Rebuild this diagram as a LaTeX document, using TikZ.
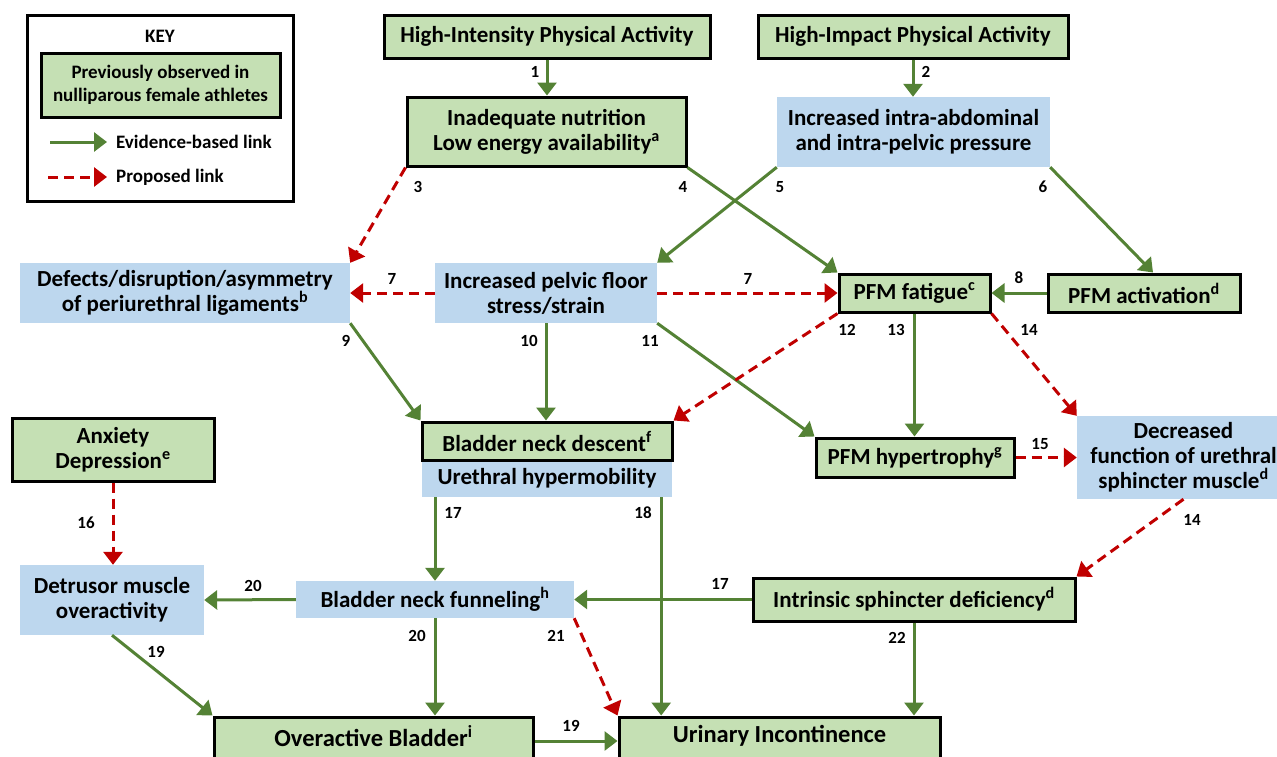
\documentclass[tikz,border=0pt]{standalone}
\usepackage{fontspec}
\setmainfont{Carlito}
\usetikzlibrary{arrows.meta}
\definecolor{gfill}{HTML}{C5E0B4}
\definecolor{bfill}{HTML}{BDD7EE}
\definecolor{garrow}{HTML}{548235}
\definecolor{rarrow}{HTML}{C00000}
\tikzset{
  boxtext/.style={align=center, inner sep=0pt, font=\bfseries\fontsize{23}{25}\selectfont},
  gbox/.style={boxtext, draw=black, line width=3pt, fill=gfill},
  bbox/.style={boxtext, fill=bfill},
  bigtext/.style={font=\bfseries\fontsize{24.5}{26}\selectfont},
  ga/.style={draw=garrow, line width=3pt, -{Triangle[length=13pt,width=19pt]}},
  ra/.style={draw=rarrow, line width=3pt, dash pattern=on 10pt off 6pt, -{Triangle[length=13pt,width=19pt]}},
  lab/.style={inner sep=0pt, font=\bfseries\fontsize{17}{17}\selectfont},
  keytext/.style={inner sep=0pt, font=\bfseries\fontsize{19}{23}\selectfont, align=center},
}
\begin{document}
\begin{tikzpicture}[x=1pt,y=-1pt]
\useasboundingbox (0,0) rectangle (1277,756);
% KEY
\node[draw=black, line width=3pt, fill=white, minimum width=266pt, minimum height=186pt, inner sep=0pt] (key) at (160,108) {};
\node[keytext] (keyt) at (160,36) {KEY};
\node[keytext, draw=black, line width=3pt, fill=gfill, minimum width=239pt, minimum height=64pt] (keyg) at (160.5,85) {Previously observed in\\nulliparous female athletes};
\coordinate (ka1) at (50,142); \coordinate (ka2) at (107,142);
\coordinate (kb1) at (48,177); \coordinate (kb2) at (107,177);
\draw[ga] (ka1) -- (ka2);
\draw[ra] (kb1) -- (kb2);
\node[keytext, anchor=west] (kta) at (116,142) {Evidence-based link};
\node[keytext, anchor=west] (ktb) at (116,177) {Proposed link};
% boxes
\node[gbox, minimum width=326pt, minimum height=43pt] (hi) at (547,36.5) {High-Intensity Physical Activity};
\node[gbox, minimum width=310pt, minimum height=43pt] (hp) at (913,36.5) {High-Impact Physical Activity};
\node[gbox, minimum width=279pt, minimum height=69pt] (nut) at (546.5,131.5) {Inadequate nutrition\\Low energy availability\textsuperscript{a}};
\node[bbox, minimum width=273pt, minimum height=70pt] (iap) at (913.5,132) {Increased intra-abdominal\\and intra-pelvic pressure};
\node[bbox, minimum width=330pt, minimum height=60pt] (def) at (185,293) {Defects/disruption/asymmetry\\of periurethral ligaments\textsuperscript{b}};
\node[bbox, minimum width=222pt, minimum height=60pt] (ips) at (546,293) {Increased pelvic floor\\stress/strain};
\node[gbox, minimum width=151pt, minimum height=38pt] (fat) at (914.5,293) {PFM fatigue\textsuperscript{c}};
\node[gbox, minimum width=192pt, minimum height=38pt] (act) at (1144,293) {PFM activation\textsuperscript{d}};
\node[bbox, minimum width=250pt, minimum height=37pt] (uh) at (547,478.5) {Urethral hypermobility};
\node[gbox, minimum width=250pt, minimum height=38pt] (bnd) at (547,441) {Bladder neck descent\textsuperscript{f}};
\node[gbox, minimum width=198pt, minimum height=39pt] (hyp) at (915,457.5) {PFM hypertrophy\textsuperscript{g}};
\node[bbox, minimum width=213pt, minimum height=83pt] (dfus) at (1183.5,457.5) {Decreased\\function of urethral\\sphincter muscle\textsuperscript{d}};
\node[gbox, minimum width=202pt, minimum height=63pt] (anx) at (113,449.5) {Anxiety\\Depression\textsuperscript{e}};
\node[bbox, minimum width=184pt, minimum height=70pt] (det) at (112,600) {Detrusor muscle\\overactivity};
\node[bbox, minimum width=278pt, minimum height=37pt] (bnf) at (435,599.5) {Bladder neck funneling\textsuperscript{h}};
\node[gbox, minimum width=322pt, minimum height=43pt] (isd) at (914,599.5) {Intrinsic sphincter deficiency\textsuperscript{d}};
\node[gbox, minimum width=319pt, minimum height=44pt] (ob) at (373.5,739) {};
\node[gbox, minimum width=321pt, minimum height=44pt] (ui) at (779.5,739) {};
\node[boxtext, bigtext] (obt) at (373.5,736) {Overactive Bladder\textsuperscript{i}};
\node[boxtext, bigtext] (uit) at (779.5,736) {Urinary Incontinence};
% connectors
\draw[ga] (hi.south) -- (hi.south |- nut.north);
\draw[ga] (hp.south) -- (hp.south |- iap.north);
\draw[ra] (nut.south west) -- (def.north east);
\draw[ga] (nut.south east) -- (fat.north west);
\draw[ga] (iap.south west) -- (ips.north east);
\draw[ga] (iap.south east) -- ([xshift=9pt]act.north);
\draw[ra] (ips.west) -- (def.east);
\draw[ra] (ips.east) -- (fat.west);
\draw[ga] (act.west) -- (fat.east);
\draw[ga] (def.south east) -- (bnd.north west);
\draw[ga] (ips.south) -- (ips.south |- bnd.north);
\draw[ga] (ips.south east) -- (hyp.north west);
\draw[ra] (fat.south west) -- (bnd.north east);
\draw[ga] (fat.south) -- (fat.south |- hyp.north);
\draw[ra] (fat.south east) -- (dfus.north west);
\draw[ra] (hyp.east) -- (hyp.east -| dfus.west);
\draw[ra] (dfus.south) -- (isd.north east);
\draw[ra] (anx.south) -- (anx.south |- det.north);
\draw[ga] (bnf.north |- uh.south) -- (bnf.north);
\draw[ga] (isd.west) -- (bnf.east);
\coordinate (c18) at ([xshift=-11pt]uh.south east);
\draw[ga] (c18) -- (c18 |- ui.north);
\draw[ga] (det.south) -- (ob.north west);
\draw[ga] ([yshift=-2pt]ob.east) -- ([yshift=-2pt]ob.east -| ui.west);
\draw[ga] (bnf.west) -- (det.east);
\draw[ga] (bnf.south) -- (bnf.south |- ob.north);
\draw[ra] (bnf.south east) -- (ui.north west);
\draw[ga] (isd.south) -- (isd.south |- ui.north);
% labels
\node[lab] (l1) at (535,72) {1};
\node[lab] (l2) at (926,72) {2};
\node[lab] (l3) at (418,187) {3};
\node[lab] (l4) at (683,187) {4};
\node[lab] (l5) at (780,187) {5};
\node[lab] (l6) at (1043,187) {6};
\node[lab] (l7a) at (392,279) {7};
\node[lab] (l7b) at (748,279) {7};
\node[lab] (l8) at (1019,278) {8};
\node[lab] (l9) at (346,341) {9};
\node[lab] (l10) at (529,341) {10};
\node[lab] (l11) at (650,341) {11};
\node[lab] (l12) at (847,330) {12};
\node[lab] (l13) at (896,330) {13};
\node[lab] (l14a) at (1029,330) {14};
\node[lab] (l15) at (1040,444) {15};
\node[lab] (l14b) at (1192,520) {14};
\node[lab] (l16) at (86,523) {16};
\node[lab] (l17a) at (453,513) {17};
\node[lab] (l18) at (643,513) {18};
\node[lab] (l20a) at (253,586) {20};
\node[lab] (l17b) at (720,584) {17};
\node[lab] (l20b) at (417,636) {20};
\node[lab] (l21) at (556,636) {21};
\node[lab] (l22) at (897,638) {22};
\node[lab] (l19a) at (156,652) {19};
\node[lab] (l19b) at (571,726) {19};
\end{tikzpicture}
\end{document}
